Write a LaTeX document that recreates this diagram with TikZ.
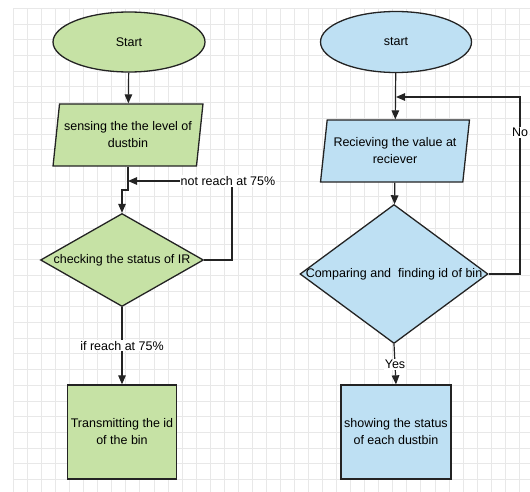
\documentclass[tikz,border=0pt]{standalone}
\usepackage{fontspec}
\setmainfont{Liberation Sans}
\usetikzlibrary{shapes.geometric,arrows.meta}
\definecolor{greenbox}{RGB}{198,226,165}
\definecolor{bluebox}{RGB}{190,224,243}
\definecolor{gridgray}{RGB}{232,232,232}
\definecolor{edgegray}{RGB}{35,35,35}
\begin{document}
\begin{tikzpicture}[x=1pt,y=-1pt]

      \tikzset{shapebase/.style={draw=edgegray, line width=1.3pt, inner sep=0pt, font=\fontsize{12.5}{17}\selectfont, align=center},
        startoval/.style={shapebase, ellipse, minimum width=152pt, minimum height=60pt},
        inputbox/.style={shapebase, trapezium, trapezium left angle=77, trapezium right angle=103, trapezium stretches=true, minimum width=150pt, minimum height=62pt},
        decision/.style={shapebase, diamond},
        processbox/.style={shapebase, rectangle, minimum width=109pt, minimum height=94pt},
        flow/.style={draw=edgegray, line width=1.2pt, -{Triangle[length=9pt,width=7.5pt]}},
        plainline/.style={draw=edgegray, line width=1.2pt},
        edgetext/.style={fill=white, inner sep=1pt, font=\fontsize{12.5}{14}\selectfont}}
      \useasboundingbox (0,0) rectangle (530,492);
% Grid
      \foreach \i in {0,...,36} \draw[gridgray, line width=0.6pt] ({13.3+14.05*\i},8) -- ({13.3+14.05*\i},492);
      \foreach \j in {0,...,30} \draw[gridgray, line width=0.6pt] (13,{8.3+15.7*\j}) -- (530,{8.3+15.7*\j});
% Left chart
      	\node[startoval, fill=greenbox] (start1) at (129,42) {Start};
      	\node[inputbox, fill=greenbox] (sense) at (128,135) {sensing the the level of\\dustbin};
      	\node[decision, fill=greenbox, minimum width=163pt, minimum height=93pt] (check) at (122,260) {\makebox[0pt]{checking the status of IR}};
      	\node[processbox, fill=greenbox] (send) at (122,432) {Transmitting the id\\of the bin};
      	\node[edgetext] (notreach) at (228,181) {not reach at 75\%};
      	\coordinate (bend1) at (128,190);
% Right chart
      	\node[startoval, fill=bluebox, minimum width=151pt, minimum height=61pt] (start2) at (396,42) {start};
      	\node[inputbox, fill=bluebox, minimum width=149pt] (receive) at (395,151) {Recieving the value at\\reciever};
      	\node[decision, fill=bluebox, minimum width=188pt, minimum height=139pt] (compare) at (394,274) {\makebox[0pt]{Comparing and \ finding id of bin}};
      	\node[processbox, fill=bluebox, minimum width=110pt] (show) at (396,432) {showing the status\\of each dustbin};
      	\coordinate (join2) at (396,97);
      	\coordinate (turn2) at (520,97);
%Arrows
		\draw[flow] (start1) -- (sense);
		\draw[flow] (sense) -- (bend1) -| (check.north);
		\draw[plainline] (check.east) -| ([xshift=4pt]notreach.south);
		\draw[flow] (notreach.west) -- (notreach.west -| bend1);
		\draw[flow] (check.south) -- node[edgetext] {if reach at 75\%} (send.north);
		\draw[flow] (start2) -- (receive);
		\draw[flow] (receive) -- (compare);
		\draw[flow] (compare.east) -| node[edgetext, pos=0.9] {No} (turn2) -- (join2);
		\draw[flow] (compare.south) -- node[edgetext] {Yes} (show.north);

	\end{tikzpicture}
\end{document}
